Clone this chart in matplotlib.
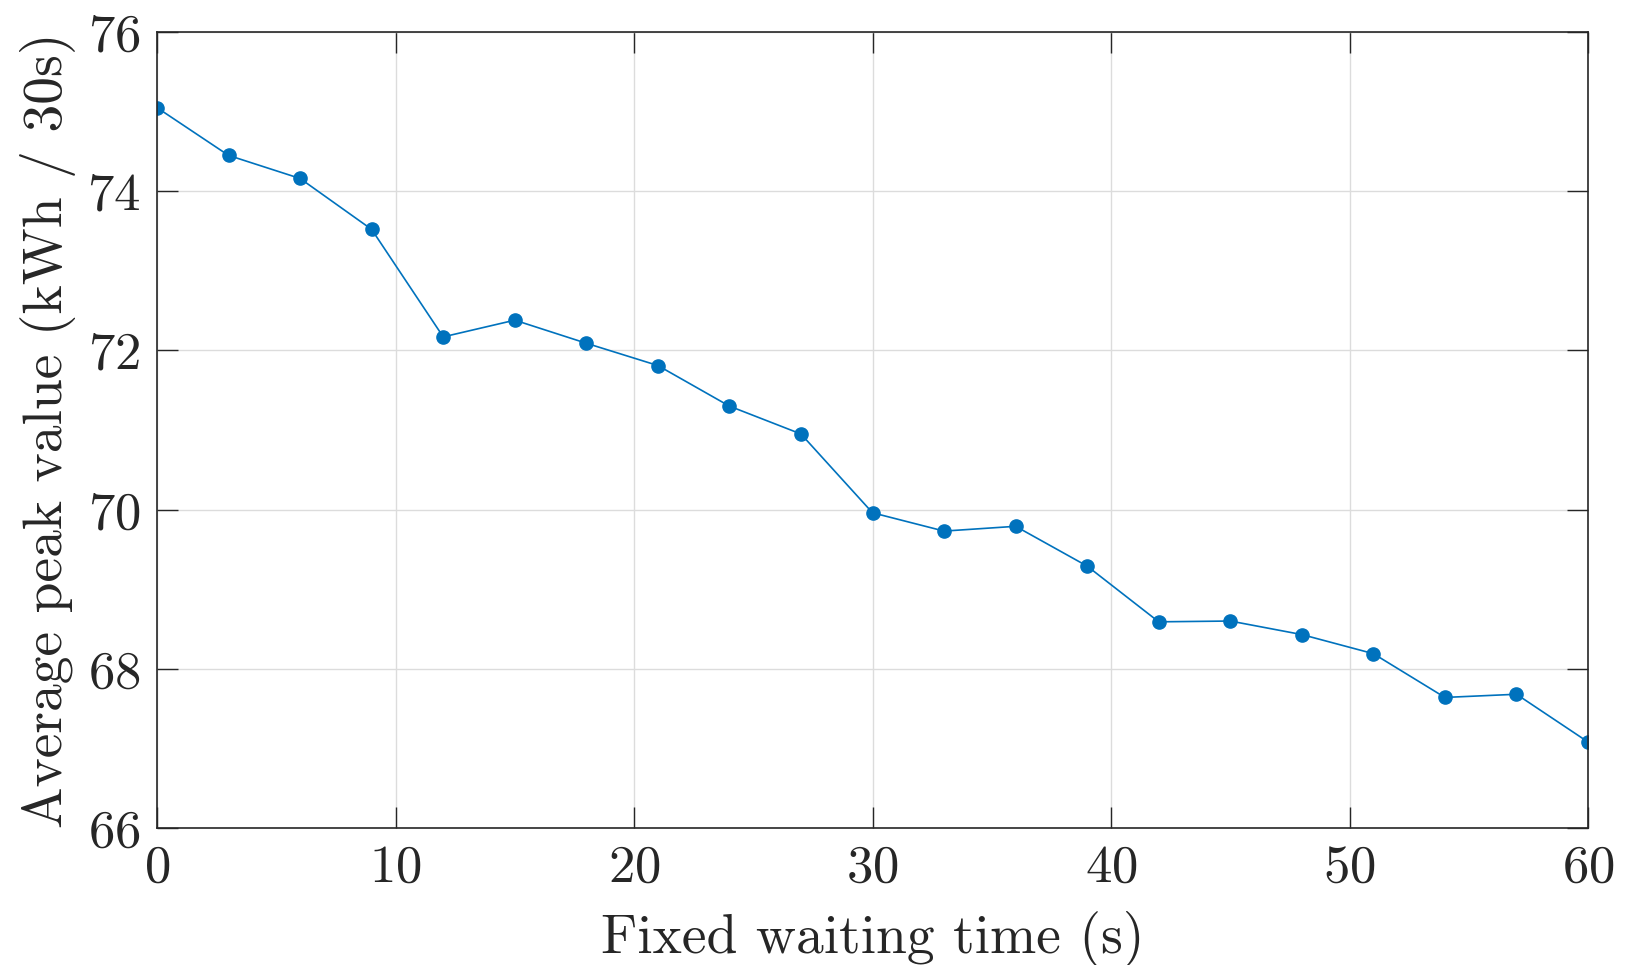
import matplotlib
matplotlib.use("Agg")
import matplotlib.pyplot as plt

plt.rcParams['font.family'] = ['cmr10', 'DejaVu Serif']
plt.rcParams['axes.formatter.use_mathtext'] = True

waiting_time = [0, 3, 6, 9, 12, 15, 18, 21, 24, 27, 30, 33, 36, 39, 42, 45, 48, 51, 54, 57, 60]
peak_value = [75.05, 74.45, 74.16, 73.52, 72.17, 72.38, 72.09, 71.81, 71.30, 70.95,
              69.96, 69.73, 69.79, 69.29, 68.59, 68.60, 68.43, 68.19, 67.64, 67.68, 67.08]
x_ticks = [0, 10, 20, 30, 40, 50, 60]
y_ticks = [66, 68, 70, 72, 74, 76]

fig = plt.figure(figsize=(16.39, 9.65), dpi=100)
ax = fig.add_axes([0.0958, 0.142, 0.8731, 0.8248])

ax.plot(waiting_time, peak_value, color='#0072BD', linewidth=1.2,
        marker='o', markersize=9.5, markerfacecolor='#0072BD', markeredgecolor='#0072BD')

ax.set_xlim(0, 60)
ax.set_ylim(66, 76)
ax.set_xticks(x_ticks)
ax.set_yticks(y_ticks)
ax.grid(True, color='#dcdcdc', linewidth=1.0)
ax.set_axisbelow(True)

ax.tick_params(direction='in', length=15, width=1.0, top=True, right=True,
               labelsize=38, colors='#262626', pad=12)
for s in ax.spines.values():
    s.set_color('#262626')
    s.set_linewidth(1.2)

ax.set_xlabel('Fixed waiting time (s)', fontsize=40, color='#262626', labelpad=14)
ax.set_ylabel('Average peak value (kWh / 30s)', fontsize=40, color='#262626', labelpad=8)

fig.savefig('out.png', dpi=100, facecolor='white')
